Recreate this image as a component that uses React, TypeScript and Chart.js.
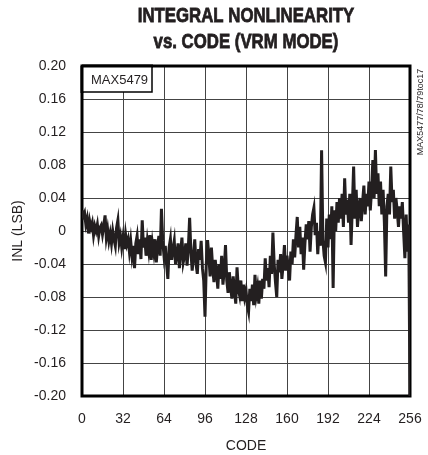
import React, { useEffect, useRef } from "react";
import { Chart, registerables } from "chart.js";

Chart.register(...registerables);

const titleLines = ["INTEGRAL NONLINEARITY", "vs. CODE (VRM MODE)"];
const xTitle = "CODE";
const yTitle = "INL (LSB)";
const boxLabel = "MAX5479";
const sideLabel = "MAX5477/78/79toc17";

const xTicks = [0, 32, 64, 96, 128, 160, 192, 224, 256];
const yTicks = [-0.2, -0.16, -0.12, -0.08, -0.04, 0, 0.04, 0.08, 0.12, 0.16, 0.2];

// INL value for each code 0..256
const inl = [
  0.025, 0.018, 0.022, 0.008, 0.015, -0.003, 0.012, 0.004, 0.010, -0.005, 0.006, 0.000, 0.008, -0.006, 0.004, 0.007,
  -0.004, 0.006, 0.019, -0.008, 0.002, -0.012, -0.003, -0.015, 0.000, -0.010, -0.018, 0.004, 0.013, -0.014, -0.006, -0.020,
  -0.008, -0.022, -0.004, -0.016, -0.010, -0.025, -0.012, -0.030, -0.018, -0.045, -0.015, -0.006, -0.028, -0.010, -0.034, 0.013,
  -0.020, -0.008, -0.030, -0.012, -0.024, -0.005, -0.035, -0.015, -0.026, -0.010, -0.038, -0.018, -0.006, -0.030, 0.027, -0.012,
  -0.030, -0.018, -0.040, -0.058, -0.020, -0.010, -0.035, -0.022, -0.012, -0.040, -0.028, -0.015, -0.045, -0.025, -0.008, -0.038,
  -0.030, -0.015, -0.042, -0.020, 0.016, -0.025, -0.048, -0.030, -0.010, -0.040, -0.052, -0.022, -0.035, -0.012, -0.045, -0.060,
  -0.104, -0.040, -0.011, -0.030, -0.055, -0.020, -0.045, -0.062, -0.035, -0.050, -0.070, -0.040, -0.058, -0.030, -0.065, -0.048,
  -0.017, -0.060, -0.075, -0.050, -0.068, -0.082, -0.055, -0.072, -0.088, -0.044, -0.070, -0.078, -0.060, -0.085, -0.065, -0.080,
  -0.072, -0.090, -0.098, -0.070, -0.085, -0.065, -0.090, -0.053, -0.078, -0.068, -0.088, -0.060, -0.082, -0.058, -0.070, -0.033,
  -0.060, -0.045, -0.068, -0.030, -0.052, -0.002, -0.040, -0.062, -0.080, -0.035, -0.050, -0.028, -0.058, -0.040, -0.017, -0.048,
  -0.030, -0.045, -0.060, -0.025, -0.040, -0.010, -0.032, -0.005, 0.017, -0.020, 0.005, -0.028, -0.008, -0.047, -0.015, 0.008,
  -0.010, 0.012, -0.025, 0.005, 0.020, 0.028, -0.005, 0.010, -0.028, 0.000, -0.018, 0.098, -0.010, -0.030, -0.038, 0.015,
  -0.020, 0.020, -0.010, 0.030, -0.069, 0.025, 0.000, 0.035, 0.010, 0.040, 0.015, 0.045, 0.005, 0.064, 0.020, 0.038,
  0.010, 0.045, -0.017, 0.030, 0.078, 0.015, 0.050, 0.005, 0.028, 0.040, 0.012, 0.035, 0.055, 0.020, 0.045, 0.030,
  0.060, 0.025, 0.050, 0.086, 0.040, 0.098, 0.045, 0.070, 0.030, 0.060, 0.020, 0.050, 0.010, -0.055, 0.030, 0.045,
  0.020, 0.078, 0.035, 0.050, 0.015, 0.040, 0.025, 0.005, 0.030, 0.015, 0.035, 0.000, -0.033, 0.020, -0.025, 0.008, -0.200,
];

const codes = inl.map((_, i) => i);

const INK = "#231f20";
const FONT = '"Liberation Sans", Arial, sans-serif';

const decor = {
  id: "decor",
  beforeDatasetsDraw(chart: any) {
    const { ctx, chartArea: a } = chart;
    ctx.save();
    ctx.strokeStyle = "#000";
    ctx.lineWidth = 3;
    ctx.strokeRect(a.left, a.top, a.right - a.left, a.bottom - a.top);
    ctx.restore();
  },
  afterDraw(chart: any) {
    const { ctx, chartArea: a } = chart;
    const cx = (a.left + a.right) / 2;
    ctx.save();
    ctx.fillStyle = INK;
    ctx.strokeStyle = INK;
    ctx.lineWidth = 0.8;
    ctx.textAlign = "center";
    ctx.textBaseline = "alphabetic";
    ctx.font = `bold 21px ${FONT}`;
    [22, 48].forEach((y, i) => {
      ctx.save();
      ctx.translate(cx, y);
      ctx.scale(0.8, 1);
      ctx.fillText(titleLines[i], 0, 0);
      ctx.strokeText(titleLines[i], 0, 0);
      ctx.restore();
    });
    // label box
    ctx.fillStyle = "#fff";
    ctx.fillRect(a.left, a.top, 70, 26);
    ctx.strokeStyle = "#000";
    ctx.lineWidth = 1.5;
    ctx.strokeRect(a.left, a.top, 70, 26);
    ctx.lineWidth = 3;
    ctx.beginPath();
    ctx.moveTo(a.left, a.top);
    ctx.lineTo(a.left, a.top + 27);
    ctx.moveTo(a.left, a.top);
    ctx.lineTo(a.left + 71, a.top);
    ctx.stroke();
    ctx.fillStyle = INK;
    ctx.font = `13px ${FONT}`;
    ctx.textAlign = "left";
    ctx.fillText(boxLabel, a.left + 9, a.top + 18);
    // side label
    ctx.save();
    ctx.translate(a.right + 11, a.top + 46);
    ctx.rotate(-Math.PI / 2);
    ctx.font = `9px ${FONT}`;
    ctx.textAlign = "center";
    ctx.textBaseline = "middle";
    ctx.fillText(sideLabel, 0, 0);
    ctx.restore();
    ctx.restore();
  },
};

export default function App() {
  const ref = useRef<HTMLCanvasElement>(null);
  useEffect(() => {
    if (!ref.current) return;
    const chart = new Chart(ref.current, {
      type: "line",
      data: {
        datasets: [
          {
            data: codes.map((c, i) => ({ x: c, y: inl[i] })),
            borderColor: INK,
            borderWidth: 3,
            pointRadius: 0,
            tension: 0,
            fill: false,
          },
        ],
      },
      options: {
        animation: false,
        responsive: false,
        devicePixelRatio: 1,
        layout: { padding: { top: 66, right: 18, left: 0, bottom: 0 } },
        plugins: { legend: { display: false }, tooltip: { enabled: false }, title: { display: false } },
        scales: {
          x: {
            type: "linear",
            min: 0,
            max: 256,
            afterBuildTicks: (s: any) => {
              s.ticks = xTicks.map((v) => ({ value: v }));
            },
            afterFit: (s: any) => {
              s.height = 59;
              s.paddingLeft = 0;
              s.paddingRight = 0;
            },
            ticks: { font: { size: 14, family: FONT }, color: INK, padding: 15, maxRotation: 0, autoSkip: false },
            grid: { color: "#444", lineWidth: 1, drawTicks: false },
            border: { display: false },
            title: { display: true, text: xTitle, font: { size: 14, family: FONT }, color: INK, padding: { top: 2, bottom: 0 } },
          },
          y: {
            min: -0.2,
            max: 0.2,
            afterBuildTicks: (s: any) => {
              s.ticks = yTicks.map((v) => ({ value: v }));
            },
            afterFit: (s: any) => {
              s.width = 82;
              s.paddingTop = 0;
              s.paddingBottom = 0;
            },
            ticks: {
              font: { size: 14, family: FONT },
              color: INK,
              padding: 16,
              autoSkip: false,
              callback: (v: any) => (Math.abs(Number(v)) < 1e-9 ? "0" : Number(v).toFixed(2)),
            },
            grid: { color: "#444", lineWidth: 1, drawTicks: false },
            border: { display: false },
            title: { display: true, text: yTitle, font: { size: 14, family: FONT }, color: INK, padding: 10 },
          },
        },
      },
      plugins: [decor],
    } as any);
    return () => chart.destroy();
  }, []);
  return (
    <div style={{ position: "absolute", left: 0, top: 0, width: 428, height: 455, background: "#fff" }}>
      <canvas ref={ref} width={428} height={455} />
    </div>
  );
}
